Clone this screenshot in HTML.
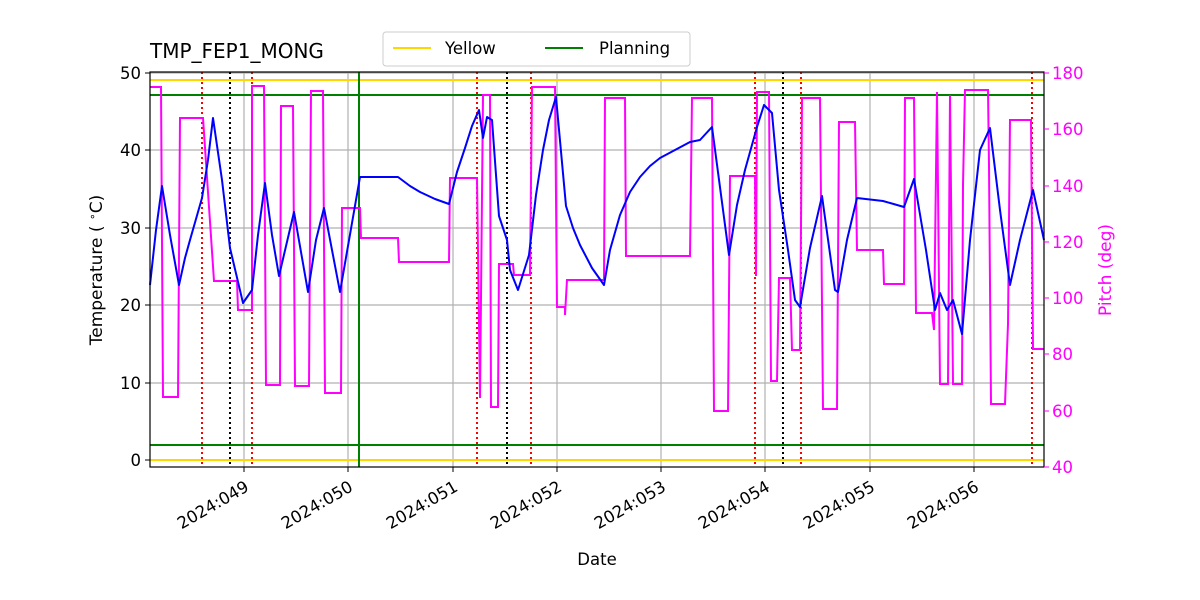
<!DOCTYPE html>
<html><head><style>body{margin:0;background:#fff}svg{display:block}text{font-family:"DejaVu Sans","Liberation Sans",sans-serif}</style></head>
<body>
<svg width="1200" height="600" viewBox="0 0 1200 600" xmlns="http://www.w3.org/2000/svg">
<rect width="1200" height="600" fill="#fff"/>
<g stroke="#b0b0b0" stroke-width="1.2">
<line x1="244" y1="72" x2="244" y2="467"/><line x1="348" y1="72" x2="348" y2="467"/><line x1="453" y1="72" x2="453" y2="467"/><line x1="557" y1="72" x2="557" y2="467"/><line x1="661" y1="72" x2="661" y2="467"/><line x1="765" y1="72" x2="765" y2="467"/><line x1="870" y1="72" x2="870" y2="467"/><line x1="974" y1="72" x2="974" y2="467"/>
<line x1="150" y1="460" x2="1044" y2="460"/><line x1="150" y1="383" x2="1044" y2="383"/><line x1="150" y1="305" x2="1044" y2="305"/><line x1="150" y1="228" x2="1044" y2="228"/><line x1="150" y1="150" x2="1044" y2="150"/><line x1="150" y1="73" x2="1044" y2="73"/>
</g>
<g stroke-width="2">
<line x1="150" y1="80" x2="1044" y2="80" stroke="#ffd700"/><line x1="150" y1="460" x2="1044" y2="460" stroke="#ffd700"/>
<line x1="150" y1="95" x2="1044" y2="95" stroke="green"/><line x1="150" y1="445" x2="1044" y2="445" stroke="green"/>
<line x1="359" y1="72" x2="359" y2="467" stroke="green"/>
</g>
<g stroke="red" stroke-width="2" stroke-dasharray="2,3">
<line x1="202" y1="72" x2="202" y2="467"/><line x1="252" y1="72" x2="252" y2="467"/><line x1="477" y1="72" x2="477" y2="467"/><line x1="531" y1="72" x2="531" y2="467"/><line x1="755" y1="72" x2="755" y2="467"/><line x1="801" y1="72" x2="801" y2="467"/><line x1="1032" y1="72" x2="1032" y2="467"/>
</g>
<g stroke="#000" stroke-width="2" stroke-dasharray="2,3">
<line x1="230" y1="72" x2="230" y2="467"/><line x1="507" y1="72" x2="507" y2="467"/><line x1="783" y1="72" x2="783" y2="467"/>
</g>
<polyline fill="none" stroke="magenta" stroke-width="2" points="150,87 161,87 163,397 178,397 180,118 203,118 214,281 237,281 238,310 252,310 252,86 264,86 266,385 280,385 281,106 293,106 295,386 309,386 311,91 323,91 325,393 341,393 342,208 360,208 361,238 398,238 399,262 449,262 450,178 477,178 480,398 483,95 490,95 491,407 498,407 499,264 513,264 514,275 530,275 532,87 555,87 557,307 565,307 565,315 567,280 604,280 605,98 625,98 626,256 690,256 692,98 712,98 714,411 728,411 730,176 755,176 756,276 757,92 769,92 771,381 777,381 779,278 790,278 792,350 800,350 802,98 820,98 823,409 837,409 839,122 855,122 857,250 883,250 884,284 904,284 905,98 914,98 916,313 932,313 934,330 937,92 940,384 948,384 950,95 953,384 962,384 963,185 965,90 988,90 989,165 991,404 1005,404 1008,324 1010,120 1031,120 1033,349 1044,349"/>
<polyline fill="none" stroke="blue" stroke-width="2" stroke-linejoin="round" points="150,285 156,230 162,186 170,235 179,285 185,258 190,240 202,198 208,160 213,118 222,180 230,248 243,303 252,290 258,235 265,183 272,235 279,276 294,212 308,292 316,240 324,208 340,292 360,177 398,177 410,186 420,192 435,199 449,204 457,172 465,148 472,126 479,110 483,138 487,117 492,120 499,216 507,240 510,270 518,290 529,255 536,195 543,150 549,120 556,97 566,206 573,228 580,245 592,268 604,285 610,250 620,215 630,192 640,177 650,166 660,158 675,150 690,142 700,140 712,127 729,255 737,205 745,170 757,127 764,105 772,113 779,190 788,250 795,300 800,307 810,248 822,196 835,290 838,292 847,240 857,198 883,201 904,207 914,179 926,250 935,310 940,293 947,310 953,300 962,334 970,240 980,150 990,128 1000,210 1010,285 1020,240 1033,190 1044,240"/>
<rect x="150" y="72" width="894" height="395" fill="none" stroke="#000" stroke-width="1.2"/>
<g stroke="#000" stroke-width="1"><line x1="145" y1="460" x2="150" y2="460"/><line x1="145" y1="383" x2="150" y2="383"/><line x1="145" y1="305" x2="150" y2="305"/><line x1="145" y1="228" x2="150" y2="228"/><line x1="145" y1="150" x2="150" y2="150"/><line x1="145" y1="73" x2="150" y2="73"/>
<line x1="244" y1="467" x2="244" y2="472"/><line x1="348" y1="467" x2="348" y2="472"/><line x1="453" y1="467" x2="453" y2="472"/><line x1="557" y1="467" x2="557" y2="472"/><line x1="661" y1="467" x2="661" y2="472"/><line x1="765" y1="467" x2="765" y2="472"/><line x1="870" y1="467" x2="870" y2="472"/><line x1="974" y1="467" x2="974" y2="472"/></g>
<g stroke="magenta"><line x1="1044" y1="73" x2="1049" y2="73"/><line x1="1044" y1="129" x2="1049" y2="129"/><line x1="1044" y1="186" x2="1049" y2="186"/><line x1="1044" y1="242" x2="1049" y2="242"/><line x1="1044" y1="298" x2="1049" y2="298"/><line x1="1044" y1="354" x2="1049" y2="354"/><line x1="1044" y1="411" x2="1049" y2="411"/><line x1="1044" y1="467" x2="1049" y2="467"/></g>
<g font-size="16.5" text-anchor="end"><text x="141" y="466">0</text><text x="141" y="389">10</text><text x="141" y="311">20</text><text x="141" y="234">30</text><text x="141" y="156">40</text><text x="141" y="79">50</text></g>
<g font-size="16.5" fill="magenta"><text x="1052" y="79">180</text><text x="1052" y="135">160</text><text x="1052" y="192">140</text><text x="1052" y="248">120</text><text x="1052" y="304">100</text><text x="1052" y="360">80</text><text x="1052" y="417">60</text><text x="1052" y="473">40</text></g>
<g font-size="16.5" text-anchor="end">
<text transform="translate(250,490) rotate(-30)">2024:049</text><text transform="translate(354,490) rotate(-30)">2024:050</text><text transform="translate(459,490) rotate(-30)">2024:051</text><text transform="translate(563,490) rotate(-30)">2024:052</text><text transform="translate(667,490) rotate(-30)">2024:053</text><text transform="translate(771,490) rotate(-30)">2024:054</text><text transform="translate(876,490) rotate(-30)">2024:055</text><text transform="translate(980,490) rotate(-30)">2024:056</text></g>
<text x="597" y="565" font-size="16.5" text-anchor="middle">Date</text>
<text transform="translate(102,270) rotate(-90)" font-size="17" text-anchor="middle">Temperature ( <tspan dy="-6" font-size="11">∘</tspan><tspan dy="6">C)</tspan></text>
<text transform="translate(1111,270) rotate(-90)" font-size="17" text-anchor="middle" fill="magenta">Pitch (deg)</text>
<text x="150" y="58" font-size="20">TMP_FEP1_MONG</text>
<rect x="383" y="32" width="307" height="34" fill="#fff" stroke="#ccc" rx="3"/>
<line x1="393" y1="48" x2="431" y2="48" stroke="#ffd700" stroke-width="2"/><text x="445" y="54" font-size="16.5">Yellow</text>
<line x1="545" y1="48" x2="583" y2="48" stroke="green" stroke-width="2"/><text x="599" y="54" font-size="16.5">Planning</text>
</svg>
</body></html>
